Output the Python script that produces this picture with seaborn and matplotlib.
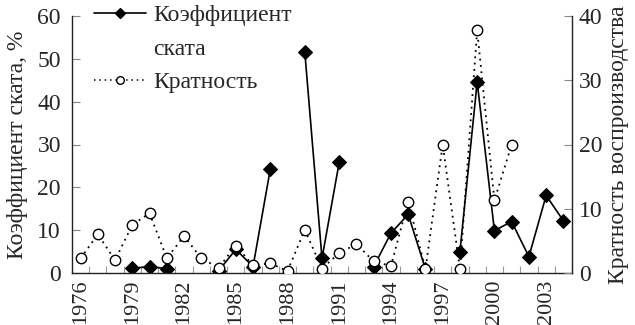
import numpy as np
import pandas as pd
import matplotlib
matplotlib.use("Agg")
import matplotlib.pyplot as plt
import seaborn as sns
from matplotlib.lines import Line2D
from matplotlib.ticker import FixedLocator

nan = np.nan

# Years on the category axis
years = list(range(1976, 2005))

# Коэффициент ската, % (left axis)
koef = [nan, nan, nan, 1.1, 1.5, 1.0, nan, nan, 0.5, 5.5, 1.5, 24.2, nan,
        51.7, 3.4, 25.9, nan, 1.5, 9.3, 13.7, 0.9, nan, 5.0, 44.6, 9.9,
        12.0, 3.8, 18.1, 12.2]

# Кратность воспроизводства (right axis)
kratnost = [2.3, 6.0, 2.0, 7.5, 9.3, 2.3, 5.75, 2.3, 0.8, 4.25, 1.2, 1.5,
            0.3, 6.7, 0.7, 3.1, 4.5, 1.8, 1.1, 11.1, 0.6, 20.0, 0.6, 37.8,
            11.3, 20.0, nan, nan, nan]

label_years = [1976, 1979, 1982, 1985, 1988, 1991, 1994, 1997, 2000, 2003]

df = pd.DataFrame({"year": years, "koef": koef, "kratnost": kratnost})
# break the solid line wherever a year has no value
df["seg"] = df["koef"].isna().cumsum()

sns.set_theme(style="white")
plt.rcParams["font.family"] = ["Liberation Serif", "DejaVu Serif"]
FS = 17

fig = plt.figure(figsize=(6.35, 3.25), dpi=100)
ax = fig.add_axes([72 / 635, 1 - 273 / 325, 500 / 635, 257 / 325])
ax2 = ax.twinx()

sns.lineplot(data=df.dropna(subset=["koef"]), x="year", y="koef",
             units="seg", estimator=None, ax=ax, color="black",
             linewidth=1.2, marker="D", markersize=7,
             markerfacecolor="black", markeredgecolor="black", legend=False)

sns.lineplot(data=df.dropna(subset=["kratnost"]), x="year", y="kratnost",
             ax=ax2, color="black", linewidth=1.3, linestyle=(0, (1, 2.5)),
             marker="o", markersize=7.5, markerfacecolor="white",
             markeredgecolor="black", markeredgewidth=1.0, legend=False)

ax.set_xlim(1975.5, 2004.5)
ax.set_ylim(0, 60)
ax2.set_ylim(0, 40)
ax.set_yticks(range(0, 61, 10))
ax2.set_yticks(range(0, 41, 10))

ax.set_xticks(label_years)
ax.set_xticklabels([str(y) for y in label_years], rotation=90)
ax.xaxis.set_minor_locator(FixedLocator(np.arange(1975.5, 2005, 1.0)))
ax.tick_params(axis="x", which="major", length=0, pad=4.5, labelsize=16)
ax.tick_params(axis="x", which="minor", direction="in", length=5,
               color="#999999", width=0.8, bottom=True)
ax.tick_params(axis="y", direction="in", length=6, color="#888888",
               width=0.8, pad=8, labelsize=FS, left=True)
ax2.tick_params(axis="y", direction="in", length=6, color="#888888",
                width=0.8, pad=5, labelsize=FS, right=True)

ax.set_xlabel("")
ax.set_ylabel("Коэффициент ската, %", fontsize=FS)
ax2.set_ylabel("Кратность воспроизводства", fontsize=FS)
ax.yaxis.set_label_coords(-0.088, 0.5)
ax2.yaxis.set_label_coords(1.072, 0.5)

for a in (ax, ax2):
    a.spines["top"].set_visible(False)
    for s in ("left", "right", "bottom"):
        a.spines[s].set_color("#222222")
        a.spines[s].set_linewidth(1.0)
ax.spines["right"].set_visible(False)
ax2.spines["left"].set_visible(False)
ax2.spines["bottom"].set_visible(False)

handles = [
    Line2D([], [], color="black", linewidth=1.2, marker="D", markersize=5,
           markerfacecolor="black"),
    Line2D([], [], color="none"),
    Line2D([], [], color="black", linewidth=1.1, linestyle=(0, (1, 2.5)),
           marker="o", markersize=5.5, markerfacecolor="white"),
]
labels = ["Коэффициент", "ската", "Кратность"]
leg = ax2.legend(handles, labels, loc="upper left",
                 bbox_to_anchor=(94 / 635, 0.985), bbox_transform=fig.transFigure,
                 frameon=False, handlelength=2.2, handletextpad=0.3,
                 labelspacing=0.5, borderaxespad=0.0, borderpad=0.0,
                 fontsize=FS)

fig.savefig("out.png", dpi=100, facecolor="white")
